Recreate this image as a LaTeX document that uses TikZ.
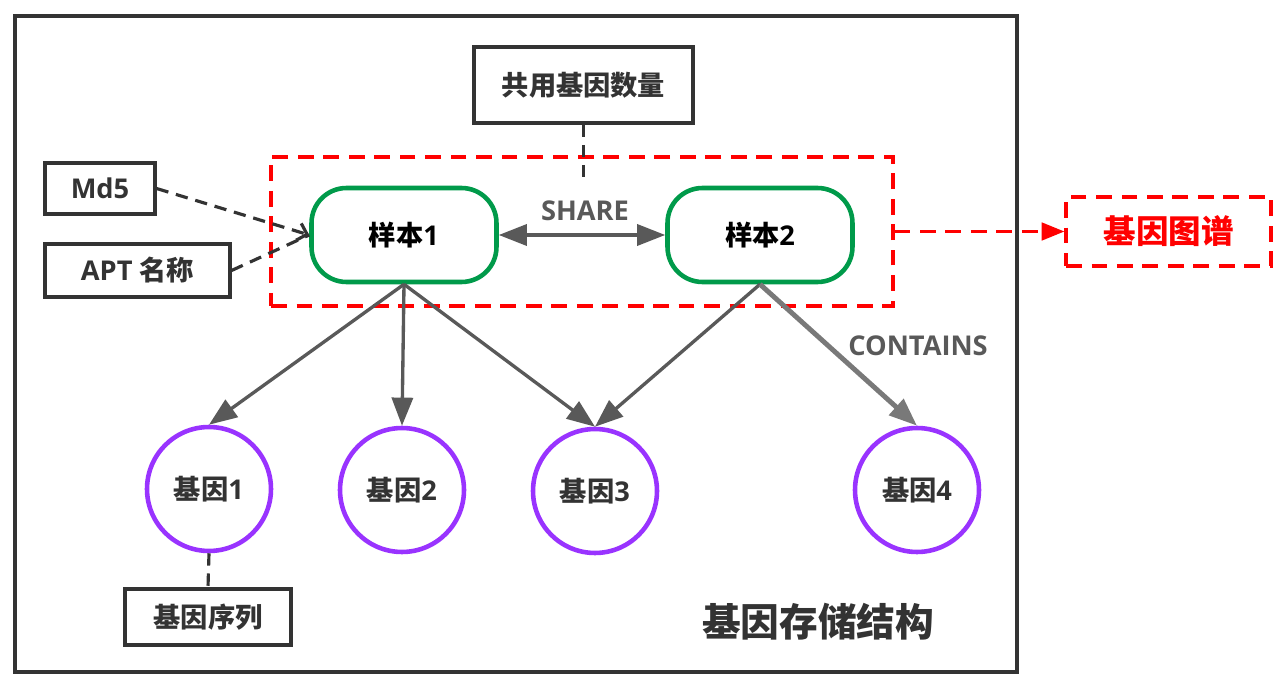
\documentclass[tikz,border=0pt]{standalone}
\usepackage{fontspec}
\setmainfont{Open Sans}
\newfontfamily\cjk{Noto Sans CJK SC}
\usetikzlibrary{arrows.meta}
\definecolor{frame}{HTML}{333333}
\definecolor{linkgray}{HTML}{595959}
\definecolor{samplegreen}{HTML}{009A4A}
\definecolor{genepurple}{HTML}{9933FF}
\definecolor{mapred}{HTML}{FF0000}
\newcommand{\txt}{\bfseries\fontsize{15.5}{18}\selectfont}

\begin{document}
\begin{tikzpicture}[x=0.02cm,y=-0.02cm,
  box/.style={draw=frame,line width=1.8pt,text=frame,font=\txt,inner sep=0pt},
  sample/.style={draw=samplegreen,line width=2.6pt,rounded corners=0.7cm,font=\txt,
    minimum width=3.7cm,minimum height=1.88cm,inner sep=0pt},
  gene/.style={circle,draw=genepurple,line width=2.6pt,text=frame,font=\txt,minimum size=2.48cm,inner sep=0pt},
  link/.style={draw=linkgray,line width=1.9pt,-{Triangle[length=16pt,width=12pt]}},
  dashline/.style={draw=frame,line width=1.8pt,dash pattern=on 7pt off 4.5pt},
  reddash/.style={draw=mapred,line width=1.8pt,dash pattern=on 9pt off 5.5pt}]
  \useasboundingbox (0,0) rectangle (1286,689);
  \draw[draw=frame,line width=1.8pt] (15,16) rectangle (1017,672);

  % samples
  \node[sample] (s1) at (404,235) {{\cjk 样本}1};
  \node[sample] (s2) at (760,235) {{\cjk 样本}2};
  \node[reddash,minimum width=12.44cm,minimum height=2.98cm] (map) at (582,231.5) {};

  % attribute boxes
  \node[box,minimum width=4.38cm,minimum height=1.52cm] (share) at (583.5,85) {\cjk 共用基因数量};
  \node[box,minimum width=2.2cm,minimum height=1.02cm] (md5) at (100,188.5) {Md5};
  \node[box,minimum width=3.7cm,minimum height=1.06cm] (apt) at (137.5,270.5) {APT {\cjk 名称}};
  \node[reddash,text=mapred,font=\bfseries\fontsize{18.5}{21}\selectfont,
    minimum width=4.1cm,minimum height=1.38cm,inner sep=0pt] (atlas) at (1168.5,231.5) {\cjk 基因图谱};

  % genes
  \node[gene] (g1) at (209,489) {{\cjk 基因}1};
  \node[gene] (g2) at (402,490) {{\cjk 基因}2};
  \node[gene] (g3) at (595,491) {{\cjk 基因}3};
  \node[gene] (g4) at (917,490) {{\cjk 基因}4};
  \node[box,minimum width=3.32cm,minimum height=1.12cm] (seq) at (208,617) {\cjk 基因序列};

  \node[text=frame,font=\bfseries\fontsize{22}{25}\selectfont] (title) at (818,622) {\cjk 基因存储结构};

  % connectors
  \coordinate (shareend) at (583.5,183);
  \draw[dashline] (share.south) -- (shareend);
  \draw[dashline,-{Straight Barb[length=5pt,width=10pt,line width=1.8pt]}] (md5.east) -- (s1.west);
  \draw[dashline] (apt.east) -- (s1.west);
  \draw[dashline] (g1.south) -- (seq.north);
  \draw[reddash,-{Triangle[length=13pt,width=10pt]}] (map.east) -- (atlas.west);

  \draw[link,{Triangle[length=16pt,width=12pt]}-{Triangle[length=16pt,width=12pt]}] (s1.east) -- (s2.west);
  \node[text=linkgray,font=\txt] (sharelbl) at (585,211) {SHARE};

  \draw[link] (s1.south) -- (g1.north);
  \draw[link] (s1.south) -- (g2.north);
  \draw[link] (s1.south) -- (g3.north);
  \draw[link] (s2.south) -- (g3.north);
  \draw[link,draw=gray!95!black,line width=2.8pt] (s2.south) -- (g4.north);
  \node[text=linkgray,font=\txt] (containslbl) at (918,346) {CONTAINS};
\end{tikzpicture}
\end{document}
